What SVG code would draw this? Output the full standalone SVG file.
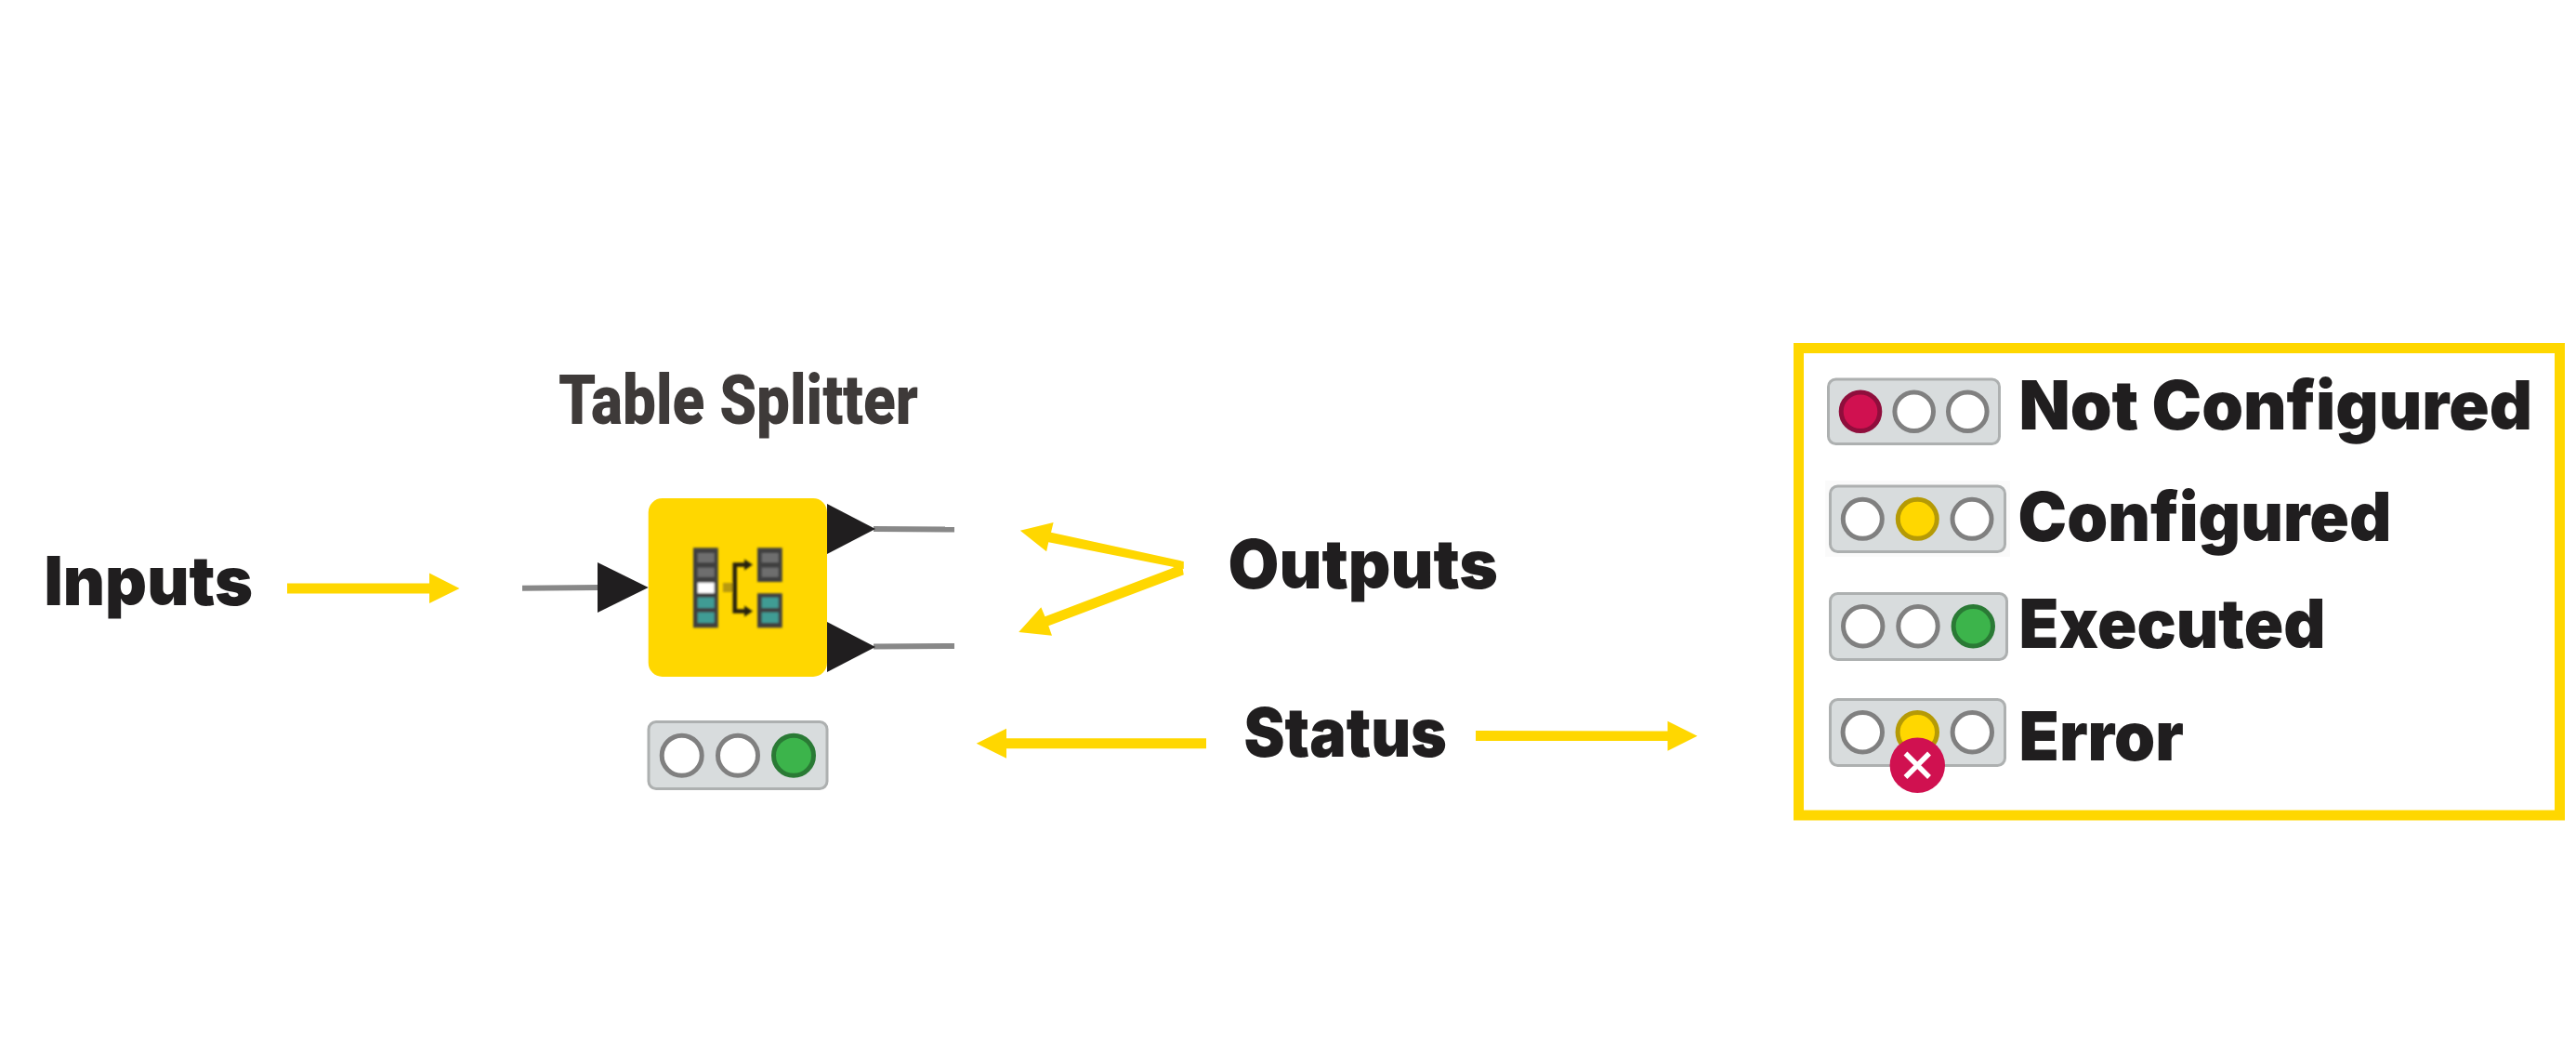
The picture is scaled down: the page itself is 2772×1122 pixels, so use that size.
<svg xmlns="http://www.w3.org/2000/svg" width="2772" height="1122" viewBox="0 0 2772 1122">
<style>
.lb{font-family:"Inter","Lato","Liberation Sans",sans-serif;font-weight:900;font-size:73px;fill:#201e1f}
.ttl{font-family:"Roboto","Liberation Sans",sans-serif;font-weight:900;font-size:74px;fill:#3e3a39}
.y{fill:#ffd700}
.bar{fill:#d8dcdd;stroke:#adb0b0;stroke-width:3}
.off{fill:#fff;stroke:#808080;stroke-width:5}
.red{fill:#d01150;stroke:#8f0e3c;stroke-width:5}
.amb{fill:#ffd700;stroke:#b59a06;stroke-width:5}
.grn{fill:#3cb44b;stroke:#2a7a35;stroke-width:5}
.port{fill:#201e1f}
.wire{stroke:#888;stroke-width:6;fill:none}
.dk{fill:#404040}.gy{fill:#6e6e6e}.tl{fill:#3f9c94}
.br{stroke:#262410;stroke-width:4.5;fill:none}
</style>
<defs>
<filter id="soft" x="-5%" y="-5%" width="110%" height="110%"><feGaussianBlur stdDeviation="1"/></filter>
</defs>
<rect width="2772" height="1122" fill="#fff"/>
<g id="connectors">
<line class="wire" x1="562" y1="632.7" x2="646" y2="632"/>
<line class="wire" x1="940" y1="569" x2="1027" y2="569.5"/>
<line class="wire" x1="940" y1="695.5" x2="1027" y2="695"/>
<polygon class="y" points="309,627.5 462,627.5 462,616.5 494.5,633 462,649 462,638.5 309,638.5"/>
<polygon class="y" points="1097.8,570.7 1133.6,562 1131,572.7 1273.8,604 1273.8,612 1128.3,583.3 1126.1,593.3"/>
<polygon class="y" points="1096.2,680 1120.3,653.3 1124.5,663.3 1259.4,612 1271.7,606 1273.8,618.3 1128.3,673.3 1132,683.7"/>
<polygon class="y" points="1050.7,799.7 1083,783.7 1083,794.2 1298,794.2 1298,805.2 1083,805.2 1083,815.7"/>
<polygon class="y" points="1588,786 1794.5,786.5 1794.5,775.7 1826.5,791.7 1794.5,807.7 1794.5,797 1588,797"/>
</g>
<g id="node-table-splitter">
<text class="ttl" x="601" y="456" textLength="387" lengthAdjust="spacingAndGlyphs">Table Splitter</text>
<rect x="697.7" y="536" width="192.3" height="192" rx="15" class="y"/>
<polygon class="port" points="643,605 697.7,632 643,659"/>
<polygon class="port" points="890,542 942,569 890,596"/>
<polygon class="port" points="890,669 942,696 890,723"/>
<g id="icon" filter="url(#soft)">
<rect class="dk" x="746" y="589.3" width="26.7" height="86"/>
<rect class="gy" x="750.7" y="595" width="18" height="10"/>
<rect class="gy" x="750.7" y="610.7" width="18" height="10"/>
<rect fill="#fff" x="750.7" y="626.7" width="18" height="11.3"/>
<rect class="tl" x="750.7" y="642.7" width="18" height="11.3"/>
<rect class="tl" x="750.7" y="658.7" width="18" height="11.3"/>
<rect class="dk" x="815" y="589.3" width="26.7" height="36.7"/>
<rect class="gy" x="819.7" y="595" width="18" height="10"/>
<rect class="gy" x="819.7" y="610.7" width="18" height="10"/>
<rect class="dk" x="815" y="638.3" width="26.7" height="37"/>
<rect class="tl" x="819.7" y="642.7" width="18" height="11.3"/>
<rect class="tl" x="819.7" y="658.7" width="18" height="11.3"/>
<rect fill="#b89a10" x="778" y="627" width="12" height="10"/>
<path class="br" d="M806 607.5H790.7V657.5H806"/>
<path d="M810 607.5l-9-6v12zM810 657.5l-9-6v12z" fill="#262410"/>
</g>
</g>
<g id="status-main">
<rect class="bar" x="698" y="776.5" width="192" height="72" rx="8"/>
<circle class="off" cx="733.7" cy="812.7" r="21.5"/>
<circle class="off" cx="794" cy="812.7" r="21.5"/>
<circle class="grn" cx="854" cy="812.7" r="21.5"/>
</g>
<g id="label-inputs"><text class="lb" x="47.5" y="651" textLength="224.5" lengthAdjust="spacingAndGlyphs">Inputs</text></g>
<g id="label-outputs"><text class="lb" x="1321.5" y="632.7" textLength="290.5" lengthAdjust="spacingAndGlyphs">Outputs</text></g>
<g id="label-status"><text class="lb" x="1338.5" y="814" textLength="218.5" lengthAdjust="spacingAndGlyphs">Status</text></g>
<g id="legend">
<rect x="1935.5" y="374.5" width="819" height="502.5" fill="none" stroke="#ffd700" stroke-width="11"/>
<g id="legend-not-configured">
<rect class="bar" x="1967.5" y="408" width="184" height="69.5" rx="8"/>
<circle class="red" cx="2002" cy="442.7" r="20.8"/>
<circle class="off" cx="2059.7" cy="442.7" r="20.8"/>
<circle class="off" cx="2117.3" cy="442.7" r="20.8"/>
<text class="lb" x="2172.5" y="461.7" textLength="552.5" lengthAdjust="spacingAndGlyphs">Not Configured</text>
</g>
<g id="legend-configured">
<rect x="1964" y="517" width="199" height="82" fill="#fafafa"/>
<rect class="bar" x="1969.5" y="523" width="188" height="70.5" rx="8"/>
<circle class="off" cx="2004.3" cy="558.3" r="21"/>
<circle class="amb" cx="2063.3" cy="558.3" r="21"/>
<circle class="off" cx="2122" cy="558.3" r="21"/>
<text class="lb" x="2171.5" y="582.3" textLength="402" lengthAdjust="spacingAndGlyphs">Configured</text>
</g>
<g id="legend-executed">
<rect class="bar" x="1969.5" y="638.5" width="190" height="71" rx="8"/>
<circle class="off" cx="2004.7" cy="673.7" r="21.2"/>
<circle class="off" cx="2064" cy="673.7" r="21.2"/>
<circle class="grn" cx="2123.3" cy="673.7" r="21.2"/>
<text class="lb" x="2172.5" y="697.3" textLength="330" lengthAdjust="spacingAndGlyphs">Executed</text>
</g>
<g id="legend-error">
<rect class="bar" x="1969.5" y="752.5" width="188" height="71" rx="8"/>
<circle class="off" cx="2004.3" cy="787.7" r="21.2"/>
<circle class="amb" cx="2063.3" cy="787.7" r="21.2"/>
<circle class="off" cx="2122.3" cy="787.7" r="21.2"/>
<circle cx="2063.3" cy="823.3" r="29.7" fill="#d01150"/>
<path d="M2050.5 810.5L2076 836M2076 810.5L2050.5 836" stroke="#fff" stroke-width="5.5" fill="none"/>
<text class="lb" x="2172.5" y="818.3" textLength="177.5" lengthAdjust="spacingAndGlyphs">Error</text>
</g>
</g>
</svg>
